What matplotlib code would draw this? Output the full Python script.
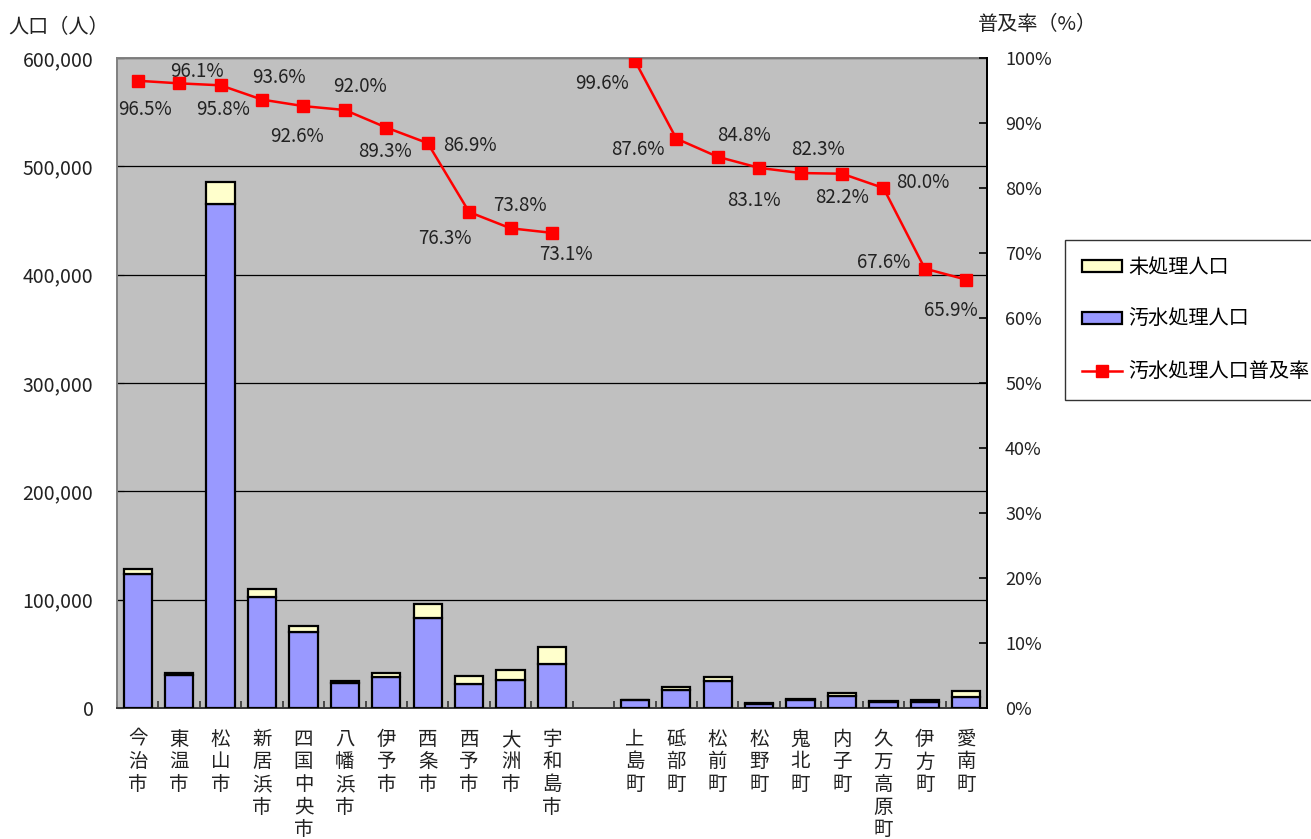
"""Sewage treatment population and coverage rate by municipality (Ehime)."""

import matplotlib.pyplot as plt
from matplotlib.lines import Line2D
from matplotlib.patches import Patch
from matplotlib.ticker import FuncFormatter, MultipleLocator

plt.rcParams["font.family"] = ["Noto Sans CJK JP", "DejaVu Sans"]

CITIES = ["今治市", "東温市", "松山市", "新居浜市", "四国中央市", "八幡浜市",
          "伊予市", "西条市", "西予市", "大洲市", "宇和島市"]
TOWNS = ["上島町", "砥部町", "松前町", "松野町", "鬼北町", "内子町",
         "久万高原町", "伊方町", "愛南町"]

# population served by sewage treatment / not served (persons)
CITY_TREATED = [123500, 30750, 465600, 102500, 69900, 22800,
                28600, 83400, 22500, 25700, 40950]
CITY_UNTREATED = [4500, 1250, 20400, 7000, 5600, 2000,
                  3400, 12600, 7000, 9100, 15050]
TOWN_TREATED = [7300, 16650, 24500, 3800, 7000, 11500, 5400, 5200, 10100]
TOWN_UNTREATED = [30, 2350, 4400, 800, 1500, 2500, 1350, 2500, 5200]

# coverage rate (%)
CITY_RATE = [96.5, 96.1, 95.8, 93.6, 92.6, 92.0, 89.3, 86.9, 76.3, 73.8, 73.1]
TOWN_RATE = [99.6, 87.6, 84.8, 83.1, 82.3, 82.2, 80.0, 67.6, 65.9]

# where each rate label sits relative to its marker (pixels, +y is down)
CITY_LABEL_OFFSETS = [(7, 29), (18, -12), (2, 24), (17, -22), (-6, 30), (15, -23),
                      (-1, 24), (42, 2), (-24, 26), (9, -23), (14, 22)]
TOWN_LABEL_OFFSETS = [(-33, 23), (-38, 11), (26, -21), (-5, 33), (17, -24),
                      (0, 24), (39, -6), (-41, -6), (-15, 31)]


def main() -> None:
    n_city = len(CITIES)
    city_x = list(range(n_city))
    town_x = [n_city + 1 + i for i in range(len(TOWNS))]
    n_slots = n_city + 1 + len(TOWNS)

    fig = plt.figure(figsize=(13.11, 8.39), dpi=100)
    ax = fig.add_axes([117 / 1311, 1 - 708 / 839, 870 / 1311, 650 / 839])
    ax.set_facecolor("#C0C0C0")

    bar_w = 0.68
    purple = "#9999FF"
    cream = "#FFFFCC"
    for xs, treated, untreated in [(city_x, CITY_TREATED, CITY_UNTREATED),
                                   (town_x, TOWN_TREATED, TOWN_UNTREATED)]:
        ax.bar(xs, treated, width=bar_w, color=purple, edgecolor="black",
               linewidth=1.6, zorder=3)
        ax.bar(xs, untreated, bottom=treated, width=bar_w, color=cream,
               edgecolor="black", linewidth=1.6, zorder=3)

    ax.set_xlim(-0.5, n_slots - 0.5)
    ax.set_ylim(0, 600000)
    ax.yaxis.set_major_locator(MultipleLocator(100000))
    ax.yaxis.set_major_formatter(FuncFormatter(lambda v, _: f"{int(v):,}"))
    ax.grid(axis="y", color="black", linewidth=0.9, zorder=1)
    ax.set_axisbelow(True)

    ax.set_xticks(city_x + town_x, ["\n".join(n) for n in CITIES + TOWNS])
    ax.set_xticks([i + 0.5 for i in range(-1, n_slots)], minor=True)
    ax.tick_params(axis="x", which="major", length=0, pad=15, labelsize=14,
                   labelcolor="#222222")
    ax.tick_params(axis="x", which="minor", direction="in", length=5, width=1.2,
                   color="#333333")
    for lab in ax.get_xticklabels():
        lab.set_linespacing(1.1)
        lab.set_verticalalignment("top")
    ax.tick_params(axis="y", direction="in", length=5, labelsize=14, pad=17,
                   labelcolor="#222222")

    for side in ["top", "left"]:
        ax.spines[side].set_color("#808080")
        ax.spines[side].set_linewidth(1.4)
    ax.spines["bottom"].set_color("#333333")
    ax.spines["bottom"].set_linewidth(1.4)
    ax.spines["right"].set_color("black")
    ax.spines["right"].set_linewidth(1.4)

    # coverage rate on the secondary axis
    ax2 = ax.twinx()
    ax2.set_ylim(0, 100)
    ax2.yaxis.set_major_locator(MultipleLocator(10))
    ax2.yaxis.set_major_formatter(FuncFormatter(lambda v, _: f"{int(v)}%"))
    ax2.tick_params(axis="y", direction="in", length=6, width=1.2, labelsize=13,
                    pad=13, labelcolor="#222222")
    for side in ["top", "left", "bottom"]:
        ax2.spines[side].set_visible(False)
    ax2.spines["right"].set_color("black")
    ax2.spines["right"].set_linewidth(1.4)

    px = 0.72  # points per pixel at 100 dpi
    for xs, rates, offsets in [(city_x, CITY_RATE, CITY_LABEL_OFFSETS),
                               (town_x, TOWN_RATE, TOWN_LABEL_OFFSETS)]:
        ax2.plot(xs, rates, color="#FF0000", linewidth=1.8, marker="s",
                 markersize=8.5, markeredgecolor="#FF0000", zorder=4)
        for x, r, (dx, dy) in zip(xs, rates, offsets):
            ax2.annotate(f"{r:.1f}%", (x, r), xytext=(dx * px, -dy * px),
                         textcoords="offset points", ha="center", va="center",
                         fontsize=13.5, color="#222222")

    fig.text(8 / 1311, 1 - 28 / 839, "人口（人）", fontsize=14.5, va="center",
             ha="left", color="#222222")
    fig.text(978 / 1311, 1 - 25 / 839, "普及率（%）", fontsize=14.5, va="center",
             ha="left", color="#222222")

    handles = [
        Patch(facecolor=cream, edgecolor="black", linewidth=1.6),
        Patch(facecolor=purple, edgecolor="black", linewidth=1.6),
        Line2D([0], [0], color="#FF0000", linewidth=1.8, marker="s", markersize=9),
    ]
    labels = ["未処理人口", "汚水処理人口", "汚水処理人口普及率"]
    leg = fig.legend(handles, labels, loc="upper left",
                     bbox_to_anchor=(1065 / 1311, 1 - 240 / 839),
                     fontsize=14.5, frameon=True, fancybox=False,
                     edgecolor="black", labelspacing=1.55, handlelength=2.0,
                     handleheight=0.55, handletextpad=0.3, borderpad=0.85,
                     borderaxespad=0)
    leg.get_frame().set_linewidth(1.0)

    fig.savefig("out.png", dpi=100, facecolor="white")
    plt.close(fig)


if __name__ == "__main__":
    main()
